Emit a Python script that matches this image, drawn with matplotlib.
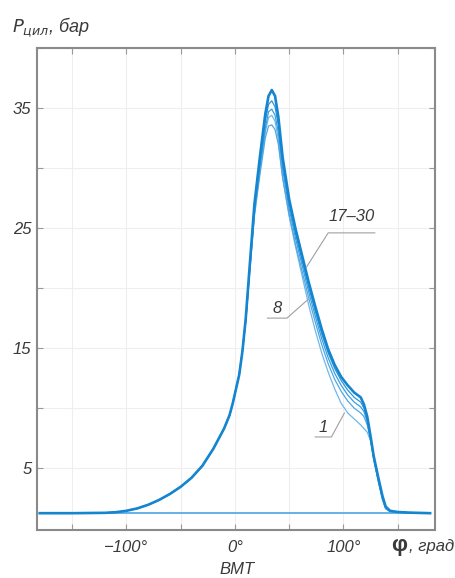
import matplotlib
matplotlib.use("Agg")
import matplotlib.pyplot as plt

# crank angle, deg (compression part is common to all cycles)
phi_comp = [-180, -150, -120, -110, -100, -90, -80, -70, -60, -50, -40, -30,
            -20, -10, -5, -2, 0, 4, 7]
p_comp = [1.25, 1.25, 1.28, 1.33, 1.45, 1.65, 1.95, 2.35, 2.85, 3.45, 4.2, 5.2,
          6.6, 8.3, 9.4, 10.4, 11.2, 12.8, 14.8]

# combustion / expansion part, one list per cycle
phi_exp = [10, 14, 18, 23, 28, 31, 34, 37, 40, 44, 50, 56, 62, 68, 74, 80, 86,
           92, 98, 104, 110, 116, 119, 122, 125, 128, 132, 136, 139, 143, 150,
           160, 180]
p_17_30 = [17.5, 22.3, 27.0, 30.9, 34.5, 36.0, 36.5, 36.0, 34.3, 30.9, 27.4,
           24.9, 22.7, 20.5, 18.5, 16.6, 14.9, 13.6, 12.6, 11.9, 11.3, 10.9,
           10.3, 9.3, 7.7, 6.0, 4.3, 2.7, 1.8, 1.45, 1.35, 1.3, 1.25]
p_12 = [17.4, 22.1, 26.7, 30.5, 33.9, 35.3, 35.6, 35.1, 33.6, 30.4, 27.0,
        24.5, 22.3, 20.1, 18.1, 16.2, 14.6, 13.3, 12.3, 11.5, 10.9, 10.5,
        10.0, 9.1, 7.6, 5.9, 4.2, 2.6, 1.75, 1.45, 1.35, 1.3, 1.25]
p_8 = [17.3, 21.9, 26.4, 30.0, 33.3, 34.7, 34.9, 34.4, 33.0, 29.9, 26.6,
       24.1, 21.9, 19.7, 17.7, 15.8, 14.2, 12.9, 11.9, 11.1, 10.5, 10.1,
       9.7, 8.9, 7.5, 5.8, 4.1, 2.5, 1.7, 1.4, 1.35, 1.3, 1.25]
p_4 = [17.2, 21.7, 26.0, 29.4, 32.5, 33.5, 33.6, 33.2, 32.0, 29.2, 26.1,
       23.6, 21.4, 19.2, 17.2, 15.3, 13.7, 12.4, 11.4, 10.6, 10.0, 9.6,
       9.3, 8.6, 7.4, 5.7, 4.0, 2.4, 1.65, 1.4, 1.35, 1.3, 1.25]
p_1 = [17.2, 21.8, 26.2, 29.8, 33.0, 34.2, 34.4, 33.9, 32.4, 29.2, 26.0,
       23.4, 21.0, 18.6, 16.5, 14.6, 13.0, 11.6, 10.4, 9.6, 9.1, 8.6,
       8.3, 8.0, 7.3, 5.8, 4.0, 2.4, 1.6, 1.4, 1.35, 1.3, 1.25]

# ambient level line
phi_base = [-180, 180]
p_base = [1.25, 1.25]

xticks = [-150, -100, -50, 0, 50, 100, 150]
xlabels = ['', '−100°', '', '0°', '', '100°', '']
yticks = [5, 10, 15, 20, 25, 30, 35, 40]
ylabels = ['5', '', '15', '', '25', '', '35', '']

plt.rcParams['font.family'] = ['Liberation Sans', 'DejaVu Sans']
txt = '#3a3a3a'

fig = plt.figure(figsize=(4.56, 5.78), dpi=100)
ax = fig.add_axes([37/456, 48/578, 398/456, 482/578])

ax.plot(phi_base, p_base, color='#4ba6e2', lw=1.2, zorder=2)
for p, c, lw in [(p_1, '#6db8ea', 0.9), (p_4, '#4fa8e3', 0.9),
                 (p_8, '#3a9ddf', 0.9), (p_12, '#2c95db', 0.9),
                 (p_17_30, '#1585d0', 1.9)]:
    ax.plot(phi_comp + phi_exp, p_comp + p, color=c, lw=lw, zorder=3)

ax.set_xlim(-182.5, 184.5)
ax.set_ylim(-0.15, 40)
ax.set_xticks(xticks)
ax.set_xticklabels(xlabels, style='italic', color=txt, fontsize=12)
ax.set_yticks(yticks)
ax.set_yticklabels(ylabels, style='italic', color=txt, fontsize=12)
ax.tick_params(direction='in', length=4, color='#999999', top=True, right=True)
ax.tick_params(axis='x', pad=7)
ax.tick_params(axis='y', pad=4)
ax.grid(True, color='#eeeeee', lw=0.8)
ax.set_axisbelow(True)
for s in ax.spines.values():
    s.set_color('#8a8a8a')
    s.set_linewidth(1.5)

# leaders
lc = '#a0a0a0'
ax.plot([129, 86, 66], [24.6, 24.6, 21.75], color=lc, lw=0.8, zorder=4)
ax.text(108, 25.3, '17–30', ha='center', va='bottom', style='italic',
        color=txt, fontsize=12)
ax.plot([30, 48, 68], [17.5, 17.5, 19.1], color=lc, lw=0.8, zorder=4)
ax.text(39, 17.7, '8', ha='center', va='bottom', style='italic',
        color=txt, fontsize=12)
ax.plot([74, 89, 101], [7.6, 7.6, 9.6], color=lc, lw=0.8, zorder=4)
ax.text(81, 7.8, '1', ha='center', va='bottom', style='italic',
        color=txt, fontsize=12)

fig.text(12/456, 1 - 27/578, r'$P_{цил}$, бар', style='italic', color=txt,
         fontsize=13, va='center', ha='left')
fig.text(391/456, 1 - 546/578, 'φ', fontsize=16, fontweight='bold', color=txt,
         va='center', ha='left')
fig.text(409/456, 1 - 546/578, ', град', style='italic', color=txt,
         fontsize=12, va='center', ha='left')
fig.text(237/456, 1 - 569/578, 'ВМТ', style='italic', color=txt,
         fontsize=12, va='center', ha='center')

fig.savefig('out.png', dpi=100)
